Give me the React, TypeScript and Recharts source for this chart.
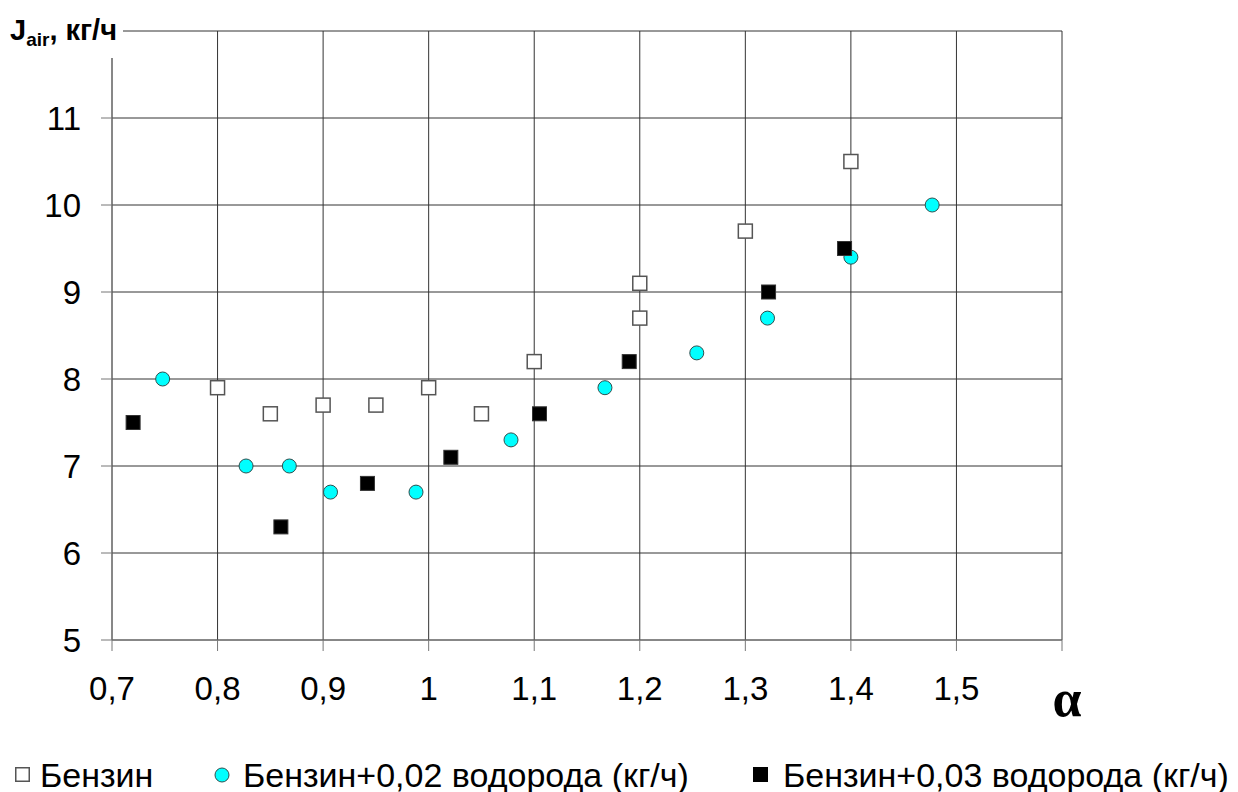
import React from "react";
import {
  ScatterChart,
  Scatter,
  XAxis,
  YAxis,
  CartesianGrid,
  Label,
} from "recharts";

// α values and J_air (кг/ч) for each series
const benzinAlpha = [0.8, 0.85, 0.9, 0.95, 1.0, 1.05, 1.1, 1.2, 1.2, 1.3, 1.4];
const benzinJ = [7.9, 7.6, 7.7, 7.7, 7.9, 7.6, 8.2, 9.1, 8.7, 9.7, 10.5];

const h002Alpha = [0.748, 0.827, 0.868, 0.907, 0.988, 1.078, 1.167, 1.254, 1.321, 1.4, 1.477];
const h002J = [8.0, 7.0, 7.0, 6.7, 6.7, 7.3, 7.9, 8.3, 8.7, 9.4, 10.0];

const h003Alpha = [0.72, 0.86, 0.942, 1.021, 1.105, 1.19, 1.322, 1.394];
const h003J = [7.5, 6.3, 6.8, 7.1, 7.6, 8.2, 9.0, 9.5];

const xTicks = [0.7, 0.8, 0.9, 1.0, 1.1, 1.2, 1.3, 1.4, 1.5, 1.6];
const yTicks = [5, 6, 7, 8, 9, 10, 11, 12];

const seriesNames = [
  "Бензин",
  "Бензин+0,02 водорода (кг/ч)",
  "Бензин+0,03 водорода (кг/ч)",
];

const toPoints = (xs: number[], ys: number[]) =>
  xs.map((x, i) => ({ x, y: ys[i] }));

const FONT = "'Liberation Sans', Arial, sans-serif";

const HollowSquare = (p: any) => (
  <rect x={p.cx - 7} y={p.cy - 7} width={14} height={14} fill="#fff" stroke="#555" strokeWidth={1.5} />
);
const CyanDot = (p: any) => (
  <circle cx={p.cx} cy={p.cy} r={7} fill="#00ffff" stroke="#2f4f4f" strokeWidth={1} />
);
const BlackSquare = (p: any) => (
  <rect x={p.cx - 7} y={p.cy - 7} width={14} height={14} fill="#000" stroke="#333" strokeWidth={1} />
);

const fmt = (v: number) => (v >= 1.55 ? "" : String(Math.round(v * 10) / 10).replace(".", ","));

const YTitle = () => (
  <g>
    <rect x={0} y={8} width={123} height={50} fill="#fff" />
    <text x={10} y={40} fontFamily={FONT} fontWeight="bold" fontSize={29} fill="#000">
      J<tspan fontSize={19} dy={6}>air</tspan>
      <tspan dy={-6}>, кг/ч</tspan>
    </text>
  </g>
);

const XTitle = () => (
  <text x={1067} y={716} textAnchor="middle" fontFamily="'Liberation Serif', 'Times New Roman', serif" fontWeight="bold" fontSize={52} fill="#000">
    α
  </text>
);

const legendText: React.CSSProperties = { fontFamily: FONT, fontSize: 34, color: "#000", position: "absolute", top: 0, lineHeight: "40px", whiteSpace: "nowrap" };
const legendIcon: React.CSSProperties = { position: "absolute", top: 12 };

export default function App() {
  return (
    <div style={{ position: "absolute", left: 0, top: 0, width: 1238, height: 792, background: "#fff" }}>
      <ScatterChart width={1238} height={792} margin={{ top: 31, right: 176, bottom: 0, left: 0 }}>
        <CartesianGrid stroke="#333" strokeWidth={1} />
        <XAxis
          type="number"
          dataKey="x"
          domain={[0.7, 1.6]}
          ticks={xTicks}
          tickFormatter={fmt}
          height={152}
          tickSize={11}
          tickMargin={26}
          stroke="#777"
          tick={{ fill: "#000", fontSize: 33, fontFamily: FONT }}
          interval={0}
        >
          <Label content={<XTitle />} />
        </XAxis>
        <YAxis
          type="number"
          dataKey="y"
          domain={[5, 12]}
          ticks={yTicks}
          tickFormatter={(v: number) => (v === 12 ? "" : String(v))}
          width={112}
          tickSize={11}
          tickMargin={20}
          stroke="#777"
          tick={{ fill: "#000", fontSize: 33, fontFamily: FONT }}
          interval={0}
        >
          <Label content={<YTitle />} />
        </YAxis>
        <Scatter name={seriesNames[0]} data={toPoints(benzinAlpha, benzinJ)} shape={HollowSquare} isAnimationActive={false} />
        <Scatter name={seriesNames[1]} data={toPoints(h002Alpha, h002J)} shape={CyanDot} isAnimationActive={false} />
        <Scatter name={seriesNames[2]} data={toPoints(h003Alpha, h003J)} shape={BlackSquare} isAnimationActive={false} />
      </ScatterChart>
      <div style={{ position: "absolute", left: 0, top: 755, width: 1238, height: 40 }}>
        <svg width={15} height={15} style={{ ...legendIcon, left: 15 }}>
          <rect x={0.75} y={0.75} width={13.5} height={13.5} fill="#fff" stroke="#555" strokeWidth={1.5} />
        </svg>
        <span style={{ ...legendText, left: 40 }}>{seriesNames[0]}</span>
        <svg width={16} height={16} style={{ ...legendIcon, left: 214 }}>
          <circle cx={8} cy={8} r={7} fill="#00ffff" stroke="#2f4f4f" strokeWidth={1} />
        </svg>
        <span style={{ ...legendText, left: 243 }}>{seriesNames[1]}</span>
        <svg width={15} height={15} style={{ ...legendIcon, left: 753 }}>
          <rect x={0} y={0} width={15} height={15} fill="#000" />
        </svg>
        <span style={{ ...legendText, left: 783 }}>{seriesNames[2]}</span>
      </div>
    </div>
  );
}
